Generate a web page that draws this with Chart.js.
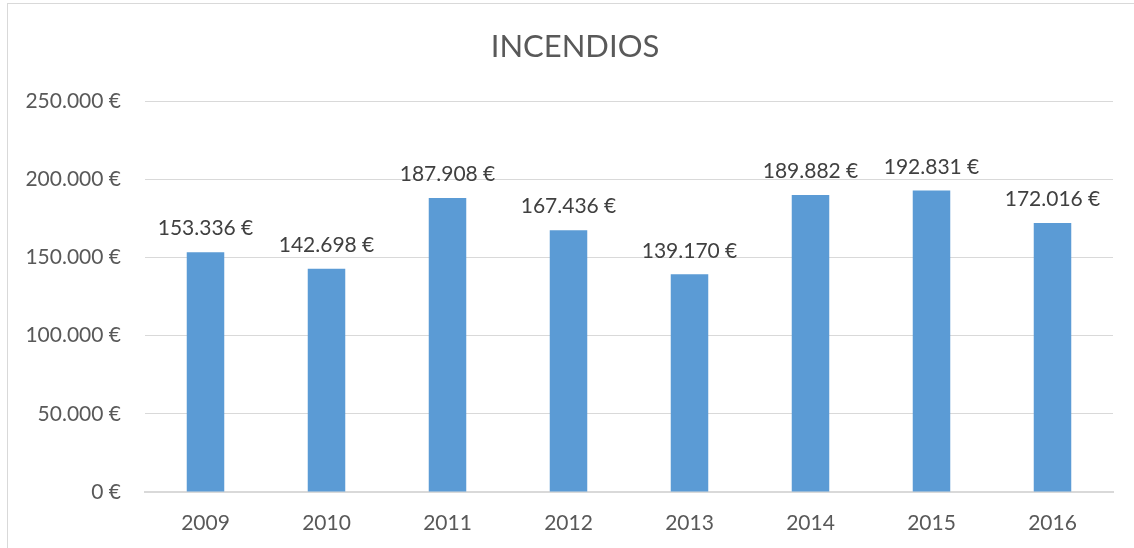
<!DOCTYPE html>
<html>
<head>
<meta charset="utf-8">
<script src="https://cdn.jsdelivr.net/npm/chart.js@4.4.0/dist/chart.umd.min.js"></script>
<style>
  html, body { margin: 0; padding: 0; background: #fff; }
  #wrap { position: relative; width: 1134px; height: 548px; }
  #frame { position: absolute; left: 7px; top: 3px; width: 1140px; height: 560px; border: 1px solid #d9d9d9; box-sizing: border-box; pointer-events: none; }
  canvas { position: absolute; left: 0; top: 0; }
</style>
</head>
<body>
<div id="wrap">
  <canvas id="chart" width="1134" height="548"></canvas>
  <div id="frame"></div>
</div>
<script>
// Datos del gráfico
const years = ['2009', '2010', '2011', '2012', '2013', '2014', '2015', '2016'];
const amounts = [153336, 142698, 187908, 167436, 139170, 189882, 192831, 172016];
const yTicks = [0, 50000, 100000, 150000, 200000, 250000];
const chartTitle = 'INCENDIOS';

function euro(v) {
    return v.toString().replace(/\B(?=(\d{3})+(?!\d))/g, '.') + ' €';
}

// Título centrado en el marco y etiquetas encima de cada barra
const decorations = {
    id: 'decorations',
    afterDraw(chart) {
        const ctx = chart.ctx;
        ctx.save();
        ctx.font = '31px Lato';
        ctx.fillStyle = '#595959';
        ctx.textAlign = 'center';
        ctx.textBaseline = 'middle';
        ctx.fillText(chartTitle, 575, 47);
        ctx.restore();
    },
    afterDatasetsDraw(chart) {
        const ctx = chart.ctx;
        const meta = chart.getDatasetMeta(0);
        ctx.save();
        ctx.font = '21px Lato';
        ctx.fillStyle = '#404040';
        ctx.textAlign = 'center';
        ctx.textBaseline = 'bottom';
        meta.data.forEach((bar, i) => {
            ctx.fillText(euro(amounts[i]), bar.x, bar.y - 13);
        });
        ctx.restore();
    }
};

const ctx = document.getElementById('chart').getContext('2d');
new Chart(ctx, {
    type: 'bar',
    data: {
        labels: years,
        datasets: [{
            data: amounts,
            backgroundColor: '#5b9bd5',
            barPercentage: 0.31,
            categoryPercentage: 1
        }]
    },
    options: {
        responsive: false,
        animation: false,
        layout: { padding: { left: 0, right: 21, top: 101, bottom: 0 } },
        scales: {
            x: {
                grid: { display: false },
                border: { color: '#d9d9d9', width: 2 },
                ticks: { color: '#595959', font: { family: 'Lato', size: 21 }, padding: 11 },
                afterFit(scale) { scale.height = 56; }
            },
            y: {
                min: 0,
                max: 250000,
                afterBuildTicks(scale) { scale.ticks = yTicks.map(v => ({ value: v })); },
                grid: { color: '#d9d9d9', lineWidth: 1, drawTicks: false },
                border: { display: false },
                ticks: {
                    color: '#595959',
                    font: { family: 'Lato', size: 21 },
                    padding: 24,
                    callback: v => euro(v)
                },
                afterFit(scale) { scale.width = 145; }
            }
        },
        plugins: {
            legend: { display: false },
            tooltip: { enabled: false },
            title: { display: false }
        }
    },
    plugins: [decorations]
});
</script>
</body>
</html>
